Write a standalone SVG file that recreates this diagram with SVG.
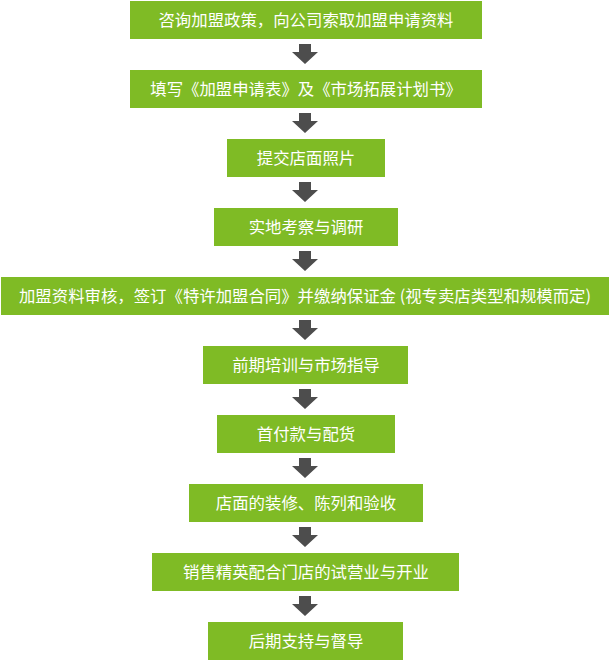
<svg xmlns="http://www.w3.org/2000/svg" width="610" height="660" viewBox="0 0 610 660">
<defs>
<style>
.box{fill:#7fbb25}
.t{fill:#ffffff;font-family:"Noto Sans CJK SC","Microsoft YaHei",sans-serif;font-size:16.4px;text-anchor:middle}
.arr{fill:#4d4d4d}
</style>
<path id="a" d="M299,0 H311 V8 H318 L305,20 L292,8 H299 Z"/>
</defs>
<rect width="610" height="660" fill="#ffffff"/>
<g id="connectors">
<use href="#a" class="arr" y="44"/>
<use href="#a" class="arr" y="113"/>
<use href="#a" class="arr" y="182"/>
<use href="#a" class="arr" y="251"/>
<use href="#a" class="arr" y="320"/>
<use href="#a" class="arr" y="389"/>
<use href="#a" class="arr" y="458"/>
<use href="#a" class="arr" y="527"/>
<use href="#a" class="arr" y="596"/>
</g>
<g id="n1"><rect class="box" x="130" y="1" width="352" height="38"/><text class="t" x="306" y="26">咨询加盟政策，向公司索取加盟申请资料</text></g>
<g id="n2"><rect class="box" x="130" y="70" width="352" height="38"/><text class="t" x="306" y="95">填写《加盟申请表》及《市场拓展计划书》</text></g>
<g id="n3"><rect class="box" x="227" y="139" width="158" height="38"/><text class="t" x="306" y="164">提交店面照片</text></g>
<g id="n4"><rect class="box" x="214" y="208" width="184" height="38"/><text class="t" x="306" y="233">实地考察与调研</text></g>
<g id="n5"><rect class="box" x="1" y="277" width="608" height="38"/><text class="t" x="305" y="302">加盟资料审核，签订《特许加盟合同》并缴纳保证金 (视专卖店类型和规模而定)</text></g>
<g id="n6"><rect class="box" x="203" y="346" width="205" height="38"/><text class="t" x="306" y="371">前期培训与市场指导</text></g>
<g id="n7"><rect class="box" x="217" y="415" width="178" height="38"/><text class="t" x="306" y="440">首付款与配货</text></g>
<g id="n8"><rect class="box" x="189" y="484" width="234" height="38"/><text class="t" x="306" y="509">店面的装修、陈列和验收</text></g>
<g id="n9"><rect class="box" x="152" y="553" width="307" height="38"/><text class="t" x="306" y="578">销售精英配合门店的试营业与开业</text></g>
<g id="n10"><rect class="box" x="208" y="622" width="195" height="38"/><text class="t" x="306" y="647">后期支持与督导</text></g>
</svg>
